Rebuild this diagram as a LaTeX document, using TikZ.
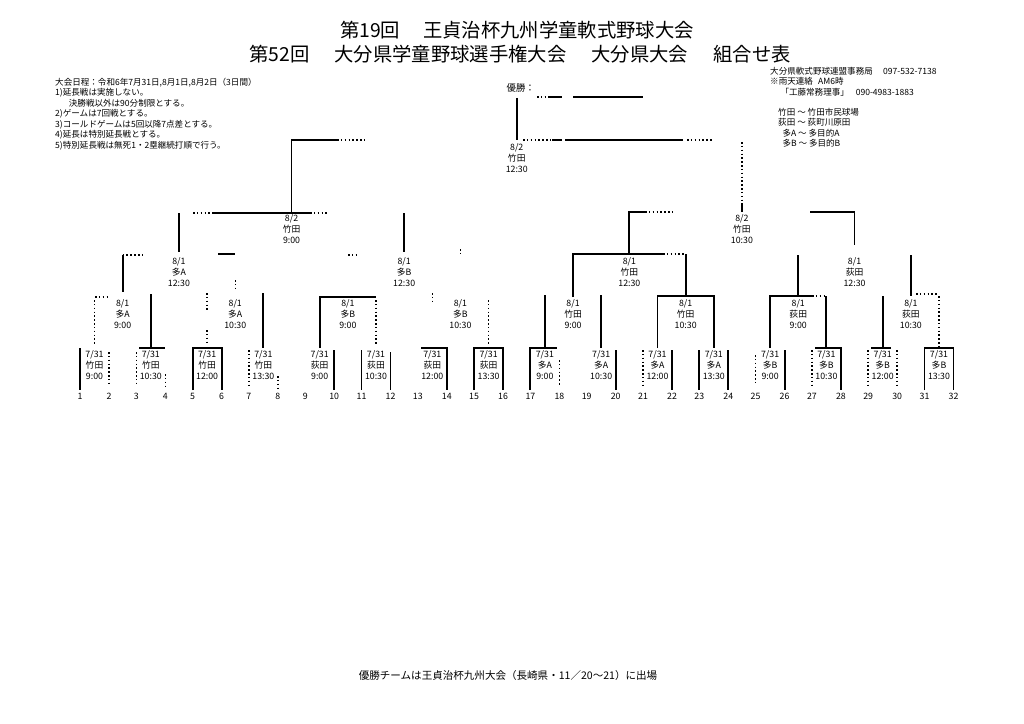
\documentclass[tikz,border=0pt]{standalone}
\usepackage{fontspec}
\setmainfont{Noto Sans CJK JP}

\tikzset{
  ln/.style={line width=0.55mm},
  dl/.style={line width=0.45mm, dotted},
  lbl/.style={font=\fontsize{7.5}{9.4}\selectfont, align=center, inner sep=0pt, anchor=north},
  num/.style={font=\fontsize{7.5}{8}\selectfont, inner sep=0pt},
  note/.style={font=\fontsize{7.3}{8.9}\selectfont, align=left, inner sep=0pt, anchor=north west},
}

\begin{document}
\begin{tikzpicture}[x=0.3mm, y=-0.3mm]

	\fill[white] (0,0) rectangle (1024,724);
	\useasboundingbox (0,0) rectangle (1024,724);

	%\draw[help lines, step=50] (0,0) grid (1024,724);

	% titles
	\node[font=\fontsize{16.5}{18}\selectfont] (title1) at (517,30) {第19回\hspace{1.2em}王貞治杯九州学童軟式野球大会};
	\node[font=\fontsize{16.5}{18}\selectfont] (title2) at (520,54) {第52回\hspace{1.3em}大分県学童野球選手権大会\hspace{1.3em}大分県大会\hspace{1.3em}組合せ表};

	% notes
	\node[note] (rules) at (55,78) {大会日程：令和6年7月31日,8月1日,8月2日（3日間）\\1)延長戦は実施しない。\\\hspace{1.6em}決勝戦以外は90分制限とする。\\2)ゲームは7回戦とする。\\3)コールドゲームは5回以降7点差とする。\\4)延長は特別延長戦とする。\\5)特別延長戦は無死1・2塁継続打順で行う。};
	\node[note] (office) at (770,67) {大分県軟式野球連盟事務局\hspace{1.2em}097-532-7138\\※雨天連絡\hspace{0.6em}AM6時\\\hspace{1.2em}「工藤常務理事」\hspace{0.8em}090-4983-1883};
	\node[note] (venues) at (778,108) {竹田\ ～\ 竹田市民球場\\荻田\ ～\ 荻町川原田\\\hspace{0.5em}多A\ ～\ 多目的A\\\hspace{0.5em}多B\ ～\ 多目的B};

	% champion
	\node[font=\fontsize{8}{9}\selectfont, anchor=east, inner sep=0pt] (champ) at (535,88) {優勝：};
	\draw[dl] (537,97) -- (546,97);
	\draw[ln] (548,97) -- (562,97);
	\draw[ln] (573,97) -- (643,97);
	\draw[ln] (516.75,98) -- (516.75,140);

	% final 8/2
	\draw[ln] (291.55,213) -- (291.55,140) -- (337,140);
	\draw[dl] (337,140) -- (365,140);
	\draw[dl] (523,140) -- (550,140);
	\draw[ln] (552,140) -- (562,140);
	\draw[ln] (565,140) -- (683,140);
	\draw[dl] (687,140) -- (713,140);
	\draw[dl] (741.95,142) -- (741.95,203);
	\draw[ln] (741.95,203) -- (741.95,212);
	\node[lbl] (fin) at (516.75,143) {8/2\\竹田\\12:30};

	% round 4
	\draw[dl] (193,213) -- (213,213);
	\draw[ln] (213,213) -- (310,213);
	\draw[dl] (310,213) -- (327,213);
	\draw[ln] (178.95,213) -- (178.95,252);
	\draw[ln] (404.15,213) -- (404.15,252);
	\draw[ln] (629.35,254) -- (629.35,212) -- (645,212);
	\draw[dl] (645,212) -- (673,212);
	\draw[ln] (810,212) -- (854.55,212) -- (854.55,245);
	\node[lbl] (sf1) at (291.55,214) {8/2\\竹田\\9:00};
	\node[lbl] (sf2) at (741.95,214) {8/2\\竹田\\10:30};

	% round 3
	\draw[ln] (122.65,255) -- (122.65,292);
	\draw[dl] (122.65,255) -- (142,255);
	\draw[ln] (218,254) -- (235.25,254);
	\draw[dl] (235.25,280) -- (235.25,291);
	\draw[dl] (348,255) -- (358,255);
	\draw[dl] (460.45,249) -- (460.45,256);
	\draw[ln] (573.05,297) -- (573.05,254) -- (663,254);
	\draw[dl] (663,254) -- (685.65,254);
	\draw[ln] (685.65,254) -- (685.65,297);
	\draw[ln] (798.25,255) -- (798.25,296);
	\draw[ln] (910.85,255) -- (910.85,296);
	\foreach \ven [count=\k from 0] in {多A,多B,竹田,荻田}
		\node[lbl] (g3\k) at ({178.95+225.2*\k},257) {8/1\\\ven\\12:30};

	% round 2
	\draw[dl] (94.5,300) -- (94.5,345);
	\draw[dl] (95,297) -- (108,297);
	\draw[ln] (150.8,294) -- (150.8,348);
	\draw[dl] (207.1,293) -- (207.1,312);
	\draw[dl] (207.1,330) -- (207.1,342);
	\draw[ln] (263.4,293) -- (263.4,348);
	\draw[ln] (319.7,348) -- (319.7,297) -- (376,297);
	\draw[dl] (376,300) -- (376,345);
	\draw[dl] (432.3,293) -- (432.3,301);
	\draw[dl] (488.6,300) -- (488.6,345);
	\draw[ln] (544.9,295) -- (544.9,348);
	\draw[ln] (601.2,295) -- (601.2,348);
	\draw[ln] (657.5,348) -- (657.5,296) -- (713.8,296) -- (713.8,348);
	\draw[ln] (770.1,348) -- (770.1,296) -- (812,296);
	\draw[dl] (812,296) -- (826.4,296);
	\draw[ln] (826.4,296) -- (826.4,348);
	\draw[ln] (882.7,296) -- (882.7,348);
	\draw[dl] (916,294) -- (939,294);
	\draw[dl] (939,296) -- (939,348);
	\foreach \ven/\tim [count=\k from 0] in {多A/9:00,多A/10:30,多B/9:00,多B/10:30,竹田/9:00,竹田/10:30,荻田/9:00,荻田/10:30}
		\node[lbl] (g2\k) at ({122.65+112.6*\k},299) {8/1\\\ven\\\tim};

	% round 1
	\draw[ln] (80,348) -- (80,390); % 1-2
	\draw[dl] (109,352) -- (109,385);
	\draw[ln] (139,348) -- (165.3,348); % 3-4
	\draw[dl] (136.3,352) -- (136.3,385);
	\draw[dl] (165.3,374) -- (165.3,388);
	\draw[ln] (192.6,390) -- (192.6,348) -- (221.6,348) -- (221.6,390); % 5-6
	\draw[dl] (248.9,350) -- (248.9,388); % 7-8
	\draw[dl] (277.9,376) -- (277.9,388);
	\draw[ln] (334.2,350) -- (334.2,390); % 9-10
	\draw[ln] (361.5,350) -- (361.5,390); % 11-12
	\draw[ln] (390.5,352) -- (390.5,390);
	\draw[ln] (421,348) -- (446.8,348) -- (446.8,390); % 13-14
	\draw[ln] (474.1,390) -- (474.1,348) -- (503.1,348) -- (503.1,390); % 15-16
	\draw[ln] (530.4,390) -- (530.4,348) -- (557,348); % 17-18
	\draw[dl] (559.4,360) -- (559.4,385);
	\draw[ln] (615.7,350) -- (615.7,390); % 19-20
	\draw[dl] (643,350) -- (643,388); % 21-22
	\draw[ln] (672,350) -- (672,390);
	\draw[ln] (699.3,350) -- (699.3,390); % 23-24
	\draw[ln] (728.3,350) -- (728.3,390);
	\draw[dl] (755.6,355) -- (755.6,385); % 25-26
	\draw[ln] (784.6,350) -- (784.6,390);
	\draw[ln] (815,348) -- (840.9,348) -- (840.9,390); % 27-28
	\draw[dl] (811.9,350) -- (811.9,388);
	\draw[ln] (871,348) -- (891,348); % 29-30
	\draw[dl] (868.2,350) -- (868.2,388);
	\draw[dl] (897.2,350) -- (897.2,388);
	\draw[ln] (924.5,390) -- (924.5,348) -- (953.5,348) -- (953.5,390); % 31-32
	\foreach \ven/\tim [count=\k from 0] in {竹田/9:00,竹田/10:30,竹田/12:00,竹田/13:30,荻田/9:00,荻田/10:30,荻田/12:00,荻田/13:30,多A/9:00,多A/10:30,多A/12:00,多A/13:30,多B/9:00,多B/10:30,多B/12:00,多B/13:30}
		\node[lbl] (g1\k) at ({94.5+56.3*\k},350) {7/31\\\ven\\\tim};

	% team numbers
	\foreach \i in {1,...,32}
		\node[num] (n\i) at ({80+56.3*int((\i-1)/2)+29*mod(\i-1,2)},396) {\i};

	% footer
	\node[font=\fontsize{9}{10}\selectfont] (footer) at (508,675) {優勝チームは王貞治杯九州大会（長崎県・11／20～21）に出場};

\end{tikzpicture}
\end{document}
